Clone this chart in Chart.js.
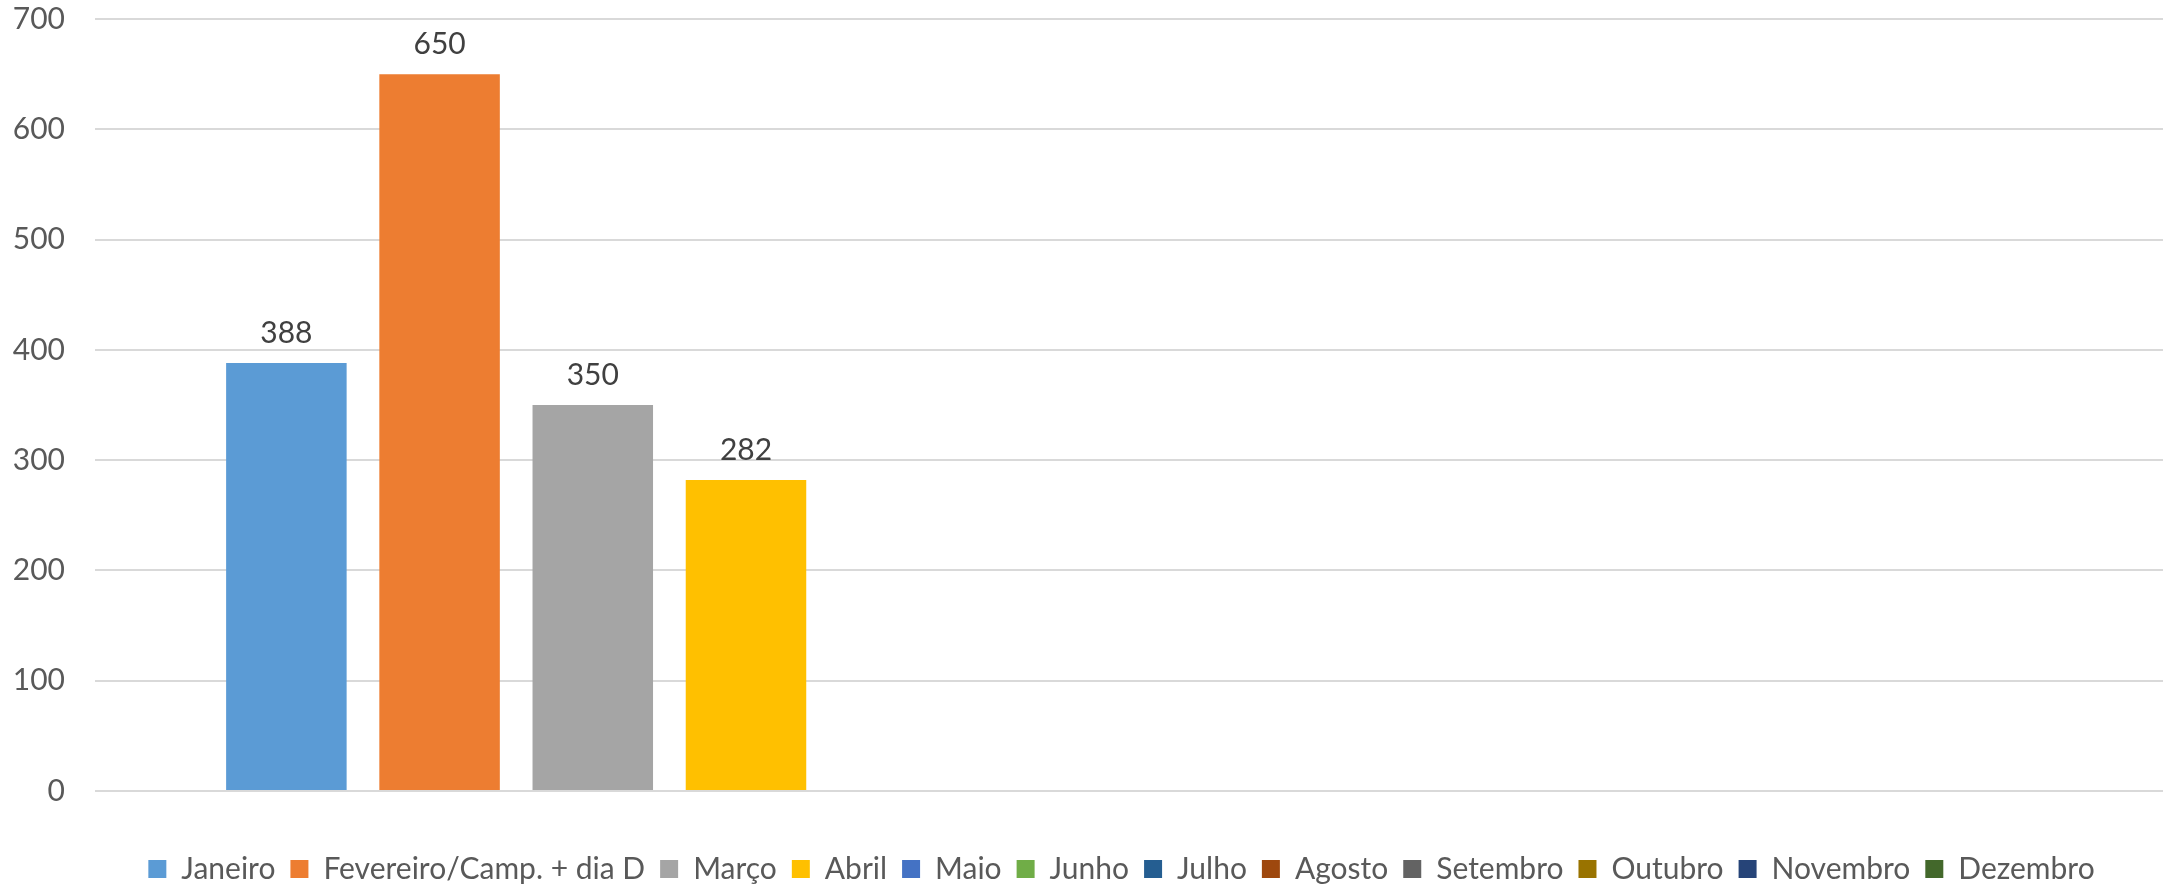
<!DOCTYPE html>
<html>
<head>
<meta charset="utf-8">
<script src="https://cdn.jsdelivr.net/npm/chart.js@4"></script>
<style>
  html, body { margin: 0; padding: 0; background: #fff; }
  #wrap { width: 2164px; height: 886px; }
</style>
</head>
<body>
<div id="wrap"><canvas id="c" width="2164" height="886"></canvas></div>
<script>
const categories = [''];
const seriesNames = ['Janeiro', 'Fevereiro/Camp. + dia D', 'Março', 'Abril', 'Maio', 'Junho', 'Julho', 'Agosto', 'Setembro', 'Outubro', 'Novembro', 'Dezembro'];
const seriesValues = [388, 650, 350, 282, null, null, null, null, null, null, null, null];
const seriesColors = ['#5B9BD5', '#ED7D31', '#A5A5A5', '#FFC000', '#4472C4', '#70AD47', '#255E91', '#9E480E', '#636363', '#997300', '#264478', '#43682B'];
const yMin = 0;
const yMax = 700;
const yStep = 100;

const FONT = 'Lato, "Open Sans", sans-serif';
const FS = 30;

const datasets = seriesNames.map((name, i) => ({
  label: name,
  data: [seriesValues[i]],
  backgroundColor: seriesColors[i],
  borderWidth: 0,
  categoryPercentage: 0.889,
  barPercentage: 0.7866
}));

const valueLabels = {
  id: 'valueLabels',
  afterDatasetsDraw(chart) {
    const ctx = chart.ctx;
    ctx.save();
    ctx.font = FS + 'px ' + FONT;
    ctx.fillStyle = '#404040';
    ctx.textAlign = 'center';
    ctx.textBaseline = 'alphabetic';
    chart.data.datasets.forEach((ds, i) => {
      const meta = chart.getDatasetMeta(i);
      meta.data.forEach((bar, j) => {
        const v = ds.data[j];
        if (v === null || v === undefined) return;
        ctx.fillText(String(v), bar.x, bar.y - 20);
      });
    });
    ctx.restore();
  }
};

const legendShift = {
  id: 'legendShift',
  afterLayout(chart) {
    const lg = chart.legend;
    if (lg) { lg.left += 40; lg.right += 40; }
  }
};

new Chart(document.getElementById('c'), {
  type: 'bar',
  data: { labels: categories, datasets },
  options: {
    responsive: false,
    animation: false,
    devicePixelRatio: 1,
    layout: { padding: { left: 0, right: 1, top: 19, bottom: -8 } },
    plugins: {
      tooltip: { enabled: false },
      legend: {
        position: 'bottom',
        align: 'center',
        labels: {
          boxWidth: 18,
          boxHeight: 18,
          padding: 15,
          color: '#595959',
          font: { family: FONT, size: FS }
        }
      }
    },
    scales: {
      x: {
        display: true,
        grid: { display: false },
        border: { display: false },
        ticks: { display: false },
        afterFit: (s) => { s.height = 48; }
      },
      y: {
        min: yMin,
        max: yMax,
        border: { display: false },
        grid: { color: '#D9D9D9', lineWidth: 2, drawTicks: true, tickLength: 30, tickColor: 'rgba(0,0,0,0)' },
        ticks: {
          stepSize: yStep,
          padding: 0,
          color: '#595959',
          font: { family: FONT, size: FS }
        },
        afterFit: (s) => { s.width = 95; }
      }
    }
  },
  plugins: [valueLabels, legendShift]
});
</script>
</body>
</html>
